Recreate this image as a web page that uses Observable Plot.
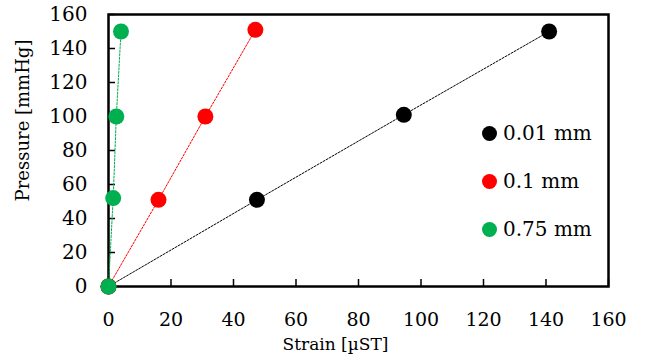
<!DOCTYPE html>
<html><head><meta charset="utf-8">
<script src="https://cdn.jsdelivr.net/npm/d3@7"></script>
<script src="https://cdn.jsdelivr.net/npm/@observablehq/plot@0.6"></script>
<style>
body{margin:0;background:#fff;}
#wrap{position:relative;width:645px;height:358px;}
#legend{position:absolute;left:482px;top:109px;font-family:"DejaVu Serif",serif;font-size:20px;color:#000;}
#legend .row{display:flex;align-items:center;height:48px;}
#legend .sw{width:15px;height:15px;border-radius:50%;margin-right:6px;}
</style>
</head><body><div id="wrap"><div id="legend"></div></div>
<script>
const seriesNames = ["0.01 mm", "0.1 mm", "0.75 mm"];
const seriesColors = ["#000000", "#ff0000", "#00b050"];
const strain001 = [0, 47.5, 94.5, 141];
const pressure001 = [0, 51, 101, 150];
const strain01 = [0, 16, 31, 47];
const pressure01 = [0, 51, 100, 151];
const strain075 = [0, 1.5, 2.5, 4];
const pressure075 = [0, 52, 100, 150];
const xTicks = [0, 20, 40, 60, 80, 100, 120, 140, 160];
const yTicks = [0, 20, 40, 60, 80, 100, 120, 140, 160];

const strains = [strain001, strain01, strain075];
const pressures = [pressure001, pressure01, pressure075];
const data = [];
seriesNames.forEach((s, i) => strains[i].forEach((x, j) => data.push({series: s, strain: x, pressure: pressures[i][j]})));

const font = "DejaVu Serif";
const chart = Plot.plot({
  width: 645, height: 358,
  marginLeft: 108, marginRight: 37, marginTop: 14, marginBottom: 72,
  style: {fontFamily: font, fontSize: "20px", background: "#fff", color: "#000"},
  x: {domain: [0, 160]},
  y: {domain: [0, 160]},
  color: {domain: seriesNames, range: seriesColors},
  marks: [
    Plot.axisX(xTicks, {tickSize: -7, tickPadding: 33, strokeWidth: 1.5, label: null, fontSize: 19}),
    Plot.axisY(yTicks, {tickSize: -7, tickPadding: 28, strokeWidth: 1.5, label: null, fontSize: 20}),
    Plot.frame({stroke: "#000", strokeWidth: 2.5}),
    Plot.line(data, {x: "strain", y: "pressure", z: "series", stroke: "series", strokeWidth: 1, strokeDasharray: "2,1.5"}),
    Plot.dot(data, {x: "strain", y: "pressure", fill: "series", r: 8}),
    Plot.text(["Pressure [mmHg]"], {frameAnchor: "left", textAnchor: "middle", lineAnchor: "middle", dx: -85, dy: -30, rotate: -90, fontSize: 18, text: d => d}),
    Plot.text(["Strain [µST]"], {frameAnchor: "bottom", textAnchor: "middle", lineAnchor: "middle", dx: -23, dy: 58, fontSize: 17, text: d => d})
  ]
});
document.getElementById("wrap").prepend(chart);
const leg = document.getElementById("legend");
seriesNames.forEach((s, i) => {
  const row = document.createElement("div"); row.className = "row";
  const sw = document.createElement("div"); sw.className = "sw"; sw.style.background = seriesColors[i];
  const t = document.createElement("span"); t.textContent = s;
  row.append(sw, t); leg.append(row);
});
</script></body></html>
